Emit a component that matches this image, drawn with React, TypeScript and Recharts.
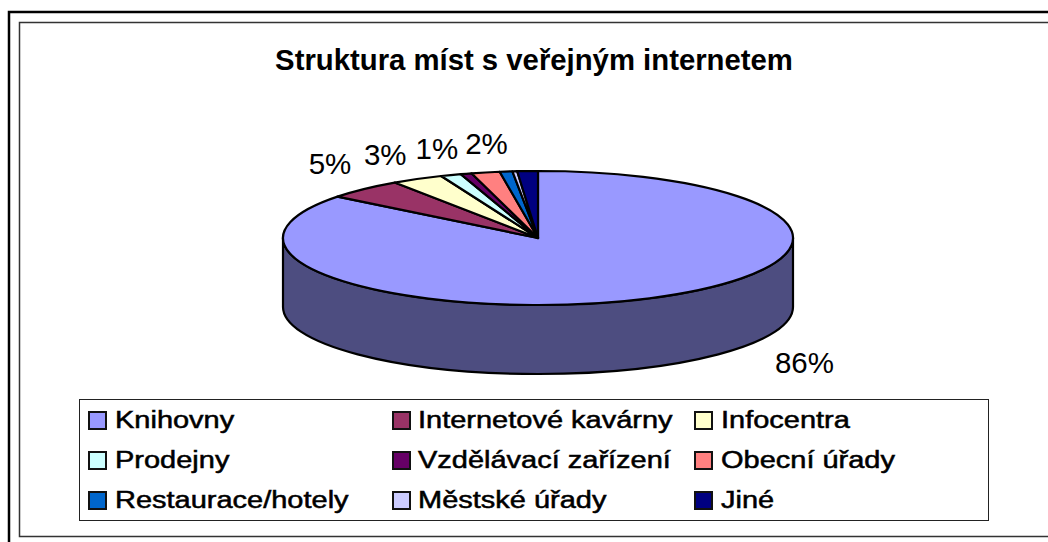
import React from "react";
import { PieChart, Pie, Legend } from "recharts";

const categories = ["Knihovny", "Internetové kavárny", "Infocentra", "Prodejny", "Vzdělávací zařízení", "Obecní úřady", "Restaurace/hotely", "Městské úřady", "Jiné"];
const shares = [85.6, 4.9, 3.3, 1.3, 0.7, 1.8, 0.8, 0.3, 1.3];
const colors = ["#9999FF", "#993366", "#FFFFCC", "#CCFFFF", "#660066", "#FF8080", "#0066CC", "#CCCCFF", "#000080"];
const titleText = "Struktura míst s veřejným internetem";

const data = categories.map((name, i) => ({ name, value: shares[i], fill: colors[i] }));

const CX = 538, CY = 238, RX = 255, RY = 67, DEPTH = 69;
const labelOffsets: Record<string, [number, number]> = {
  "Knihovny": [155, 64],
  "Internetové kavárny": [-34, -26],
  "Infocentra": [-32, -24],
  "Prodejny": [-14, -27],
  "Obecní úřady": [1, -29],
};
const colX = [88, 392, 694];
const textX = [115, 418, 721];
const rowY = [420, 460, 500];
const LEG = { left: 79, top: 399, width: 910, height: 122 };

const rad = (d: number) => (d * Math.PI) / 180;
const ex = (a: number, cx: number, rx: number) => cx + rx * Math.cos(rad(a));
const ey = (a: number, cy: number, ry: number) => cy - ry * Math.sin(rad(a));
const shade = (hex: string) => {
  const n = parseInt(hex.slice(1), 16);
  const c = (v: number) => Math.round(v / 2).toString(16).padStart(2, "0");
  return "#" + c((n >> 16) & 255) + c((n >> 8) & 255) + c(n & 255);
};

function Slice(props: any) {
  const { cx, cy, outerRadius, startAngle, endAngle, fill } = props;
  const rx = outerRadius;
  const ry = (outerRadius * RY) / RX;
  const hi = Math.max(startAngle, endAngle);
  const lo = Math.min(startAngle, endAngle);
  const walls: string[] = [];
  for (const [fLo, fHi] of [[-180, 0], [-540, -360], [180, 360]]) {
    const a = Math.min(hi, fHi);
    const b = Math.max(lo, fLo);
    if (a > b) {
      const large = a - b > 180 ? 1 : 0;
      walls.push(
        `M${ex(a, cx, rx)} ${ey(a, cy, ry)} A${rx} ${ry} 0 ${large} 1 ${ex(b, cx, rx)} ${ey(b, cy, ry)} ` +
        `L${ex(b, cx, rx)} ${ey(b, cy, ry) + DEPTH} A${rx} ${ry} 0 ${large} 0 ${ex(a, cx, rx)} ${ey(a, cy, ry) + DEPTH} Z`
      );
    }
  }
  const large = hi - lo > 180 ? 1 : 0;
  const top = `M${cx} ${cy} L${ex(hi, cx, rx)} ${ey(hi, cy, ry)} A${rx} ${ry} 0 ${large} 1 ${ex(lo, cx, rx)} ${ey(lo, cy, ry)} Z`;
  return (
    <g>
      {walls.map((d, i) => (
        <path key={i} d={d} fill={shade(fill)} stroke="#000" strokeWidth={2.2} strokeLinejoin="round" />
      ))}
      <path d={top} fill={fill} stroke="#000" strokeWidth={2.2} strokeLinejoin="round" />
    </g>
  );
}

function SliceLabel(props: any) {
  const { cx, cy, outerRadius, midAngle, name, value } = props;
  const off = labelOffsets[name];
  if (!off) return null;
  const x = ex(midAngle, cx, outerRadius) + off[0];
  const y = ey(midAngle, cy, (outerRadius * RY) / RX) + off[1];
  return (
    <text x={x} y={y} textAnchor="middle" dominantBaseline="central" fontFamily="'Liberation Sans', Arial, sans-serif" fontSize={29.5} fill="#000">
      {Math.round(value)}%
    </text>
  );
}

function LegendBox({ payload }: any) {
  const items: any[] = payload || [];
  return (
    <div style={{ position: "absolute", left: 0, top: 0, width: LEG.width, height: LEG.height, border: "1px solid #222", background: "#fff", boxSizing: "border-box" }}>
      {items.map((it, i) => {
        const c = i % 3, r = Math.floor(i / 3);
        return (
          <React.Fragment key={it.value}>
            <div style={{ position: "absolute", left: colX[c] - LEG.left - 1, top: rowY[r] - 9.5 - LEG.top - 1, width: 19, height: 19, boxSizing: "border-box", border: "2px solid #111", background: it.color }} />
            <div style={{ position: "absolute", left: textX[c] - LEG.left - 1, top: rowY[r] - 16 - LEG.top - 1, whiteSpace: "nowrap", lineHeight: "32px", fontFamily: "'Liberation Sans', Arial, sans-serif", fontSize: 23, color: "#000", transform: "scaleX(1.26)", transformOrigin: "left center", WebkitTextStroke: "0.5px #000" }}>
              {it.value}
            </div>
          </React.Fragment>
        );
      })}
    </div>
  );
}

export default function App() {
  return (
    <div style={{ position: "absolute", left: 0, top: 0, width: 1048, height: 542, background: "#fff", overflow: "hidden" }}>
      <PieChart width={1048} height={542} margin={{ top: 0, right: 0, bottom: 0, left: 0 }}>
        <path d="M1100 12 H9 V600" fill="none" stroke="#000" strokeWidth={2.5} />
        <path d="M1100 22.5 H19.5 V536.5 H1100" fill="none" stroke="#333" strokeWidth={1.5} />
        <text x={534} y={70} textAnchor="middle" fontFamily="'Liberation Sans', Arial, sans-serif" fontWeight={700} fontSize={29.3} fill="#000">
          {titleText}
        </text>
        <Pie
          data={data}
          dataKey="value"
          nameKey="name"
          cx={CX}
          cy={CY}
          outerRadius={RX}
          startAngle={90}
          endAngle={-270}
          isAnimationActive={false}
          shape={Slice}
          label={SliceLabel}
          labelLine={false}
        />
        <Legend itemSorter={null} content={LegendBox} wrapperStyle={{ position: "absolute", left: LEG.left, top: LEG.top, width: LEG.width, height: LEG.height, bottom: "auto" }} />
      </PieChart>
    </div>
  );
}
